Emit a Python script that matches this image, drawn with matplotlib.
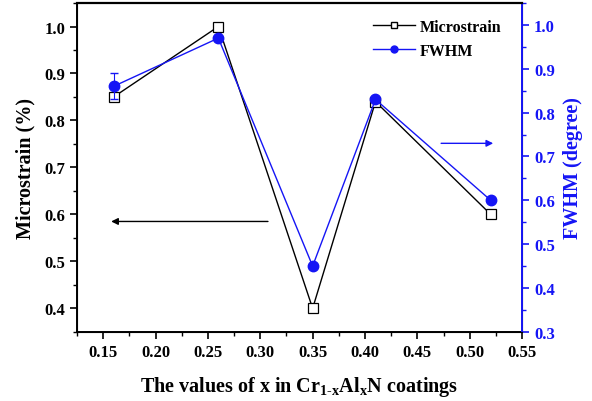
import matplotlib.pyplot as plt
from matplotlib.lines import Line2D
from matplotlib.ticker import MultipleLocator

plt.rcParams['font.family'] = ['Liberation Serif', 'DejaVu Serif']
plt.rcParams['font.weight'] = 'bold'
plt.rcParams['mathtext.fontset'] = 'custom'
plt.rcParams['mathtext.rm'] = 'Liberation Serif:bold'
plt.rcParams['mathtext.bf'] = 'Liberation Serif:bold'
plt.rcParams['mathtext.it'] = 'Liberation Serif:bold'

x_vals = [0.16, 0.26, 0.35, 0.41, 0.52]
microstrain = [0.85, 1.0, 0.40, 0.84, 0.60]
fwhm = [0.86, 0.97, 0.45, 0.83, 0.60]
fwhm_err = [0.03, 0.0, 0.0, 0.0, 0.0]

blue = '#1515f5'

fig, ax = plt.subplots(figsize=(5.92, 4.02), dpi=100)
fig.subplots_adjust(left=0.130, right=0.882, bottom=0.172, top=0.990)

ax.plot(x_vals, microstrain, color='black', lw=1.0, marker='s', ms=6.5,
        mfc='white', mec='black', mew=0.9, zorder=3)
ax2 = ax.twinx()
ax2.errorbar(x_vals, fwhm, yerr=fwhm_err, color=blue, lw=1.0, marker='o',
             ms=7.5, capsize=3, elinewidth=0.8, zorder=3)

ax.set_xlim(0.125, 0.55)
ax.set_ylim(0.35, 1.05)
ax2.set_ylim(0.30, 1.05)

xt = [0.15, 0.20, 0.25, 0.30, 0.35, 0.40, 0.45, 0.50, 0.55]
ax.set_xticks(xt)
ax.set_xticklabels(['%.2f' % v for v in xt])
ax.set_yticks([0.4, 0.5, 0.6, 0.7, 0.8, 0.9, 1.0])
ax2.set_yticks([0.3, 0.4, 0.5, 0.6, 0.7, 0.8, 0.9, 1.0])
ax.xaxis.set_minor_locator(MultipleLocator(0.025))
ax.yaxis.set_minor_locator(MultipleLocator(0.05))
ax2.yaxis.set_minor_locator(MultipleLocator(0.05))

ax.tick_params(axis='both', which='major', direction='out', length=5, width=1.2,
               labelsize=12, top=False, right=False)
ax.tick_params(axis='both', which='minor', direction='out', length=3, width=1.0)
ax2.tick_params(axis='y', which='major', direction='out', length=5, width=1.2,
                colors=blue, labelsize=12)
ax2.tick_params(axis='y', which='minor', direction='out', length=3, width=1.0, colors=blue)

for s in ['left', 'bottom', 'top']:
    ax.spines[s].set_linewidth(1.4)
ax2.spines['right'].set_color(blue)
ax2.spines['right'].set_linewidth(1.4)
ax2.spines['top'].set_linewidth(1.6)

ax.set_xlabel(r'The values of x in Cr$_{\text{1-x}}$Al$_{\text{x}}$N coatings',
              fontsize=14.5, fontweight='bold', labelpad=10)
ax.set_ylabel('Microstrain (%)', fontsize=14.5, fontweight='bold', labelpad=6)
ax2.set_ylabel('FWHM (degree)', fontsize=14.5, fontweight='bold', color=blue, labelpad=6)

ax.annotate('', xy=(0.155, 0.585), xytext=(0.31, 0.585),
            arrowprops=dict(arrowstyle='-|>', color='black', lw=1.0, mutation_scale=10))
ax2.annotate('', xy=(0.525, 0.73), xytext=(0.47, 0.73),
             arrowprops=dict(arrowstyle='-|>', color=blue, lw=1.0, mutation_scale=10))

h1 = Line2D([], [], color='black', lw=1.0, marker='s', ms=4.5, mfc='white', mec='black')
h2 = Line2D([], [], color=blue, lw=1.0, marker='o', ms=5)
ax2.legend([h1, h2], ['Microstrain', 'FWHM'], loc='upper right',
           bbox_to_anchor=(0.985, 0.995), frameon=False,
           handlelength=2.6, handletextpad=0.3, labelspacing=0.5,
           prop={'weight': 'bold', 'size': 11.5})

fig.savefig('out.png', dpi=100)
